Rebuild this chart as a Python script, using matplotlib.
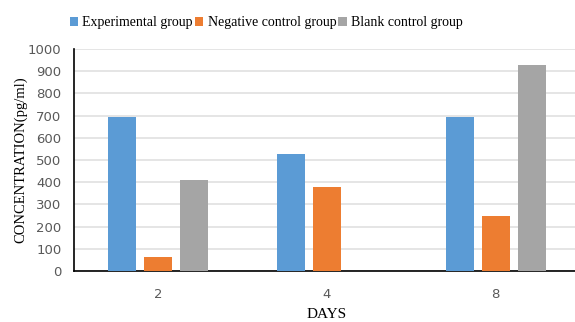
import numpy as np
import matplotlib.pyplot as plt

days = ['2', '4', '8']
experimental = [693, 527, 693]
negative = [65, 378, 248]
blank = [410, np.nan, 928]
series_names = ['Experimental group', 'Negative control group', 'Blank control group']
colors = ['#5B9BD5', '#ED7D31', '#A5A5A5']

fig = plt.figure(figsize=(5.75, 3.22), dpi=100)
ax = fig.add_axes([0.1287, 0.158, 0.88, 0.69])

x = np.arange(len(days))
w = 0.166
step = 0.213
for i, (vals, name, c) in enumerate(zip([experimental, negative, blank], series_names, colors)):
    ax.bar(x + (i - 1) * step, vals, w, color=c, label=name, zorder=3)

ax.set_xlim(-0.5, 2.5)
ax.set_ylim(0, 1000)
ax.set_yticks(range(0, 1001, 100))
ax.set_xticks(x)
ax.set_xticklabels(days)
ax.yaxis.grid(True, color='#E0E0E0', linewidth=1.2, zorder=0)
ax.tick_params(length=0, labelsize=9.5, colors='#595959')
ax.tick_params(axis='y', pad=9)
ax.tick_params(axis='x', pad=12)
for s in ['top', 'right']:
    ax.spines[s].set_visible(False)
ax.spines['left'].set_color('black')
ax.spines['bottom'].set_color('black')
ax.spines['left'].set_linewidth(1.2)
ax.spines['bottom'].set_linewidth(1.2)

ax.set_xlabel('DAYS', family='Liberation Serif', fontsize=11)
ax.set_ylabel('CONCENTRATION(pg/ml)', family='Liberation Serif', fontsize=10.5)
ax.xaxis.set_label_coords(0.5, -0.165)
ax.yaxis.set_label_coords(-0.092, 0.5)

fig.legend(loc='center', bbox_to_anchor=(0.463, 0.93), ncol=3, frameon=False,
           prop={'family': 'Liberation Serif', 'size': 10},
           handlelength=0.6, handleheight=0.6, handletextpad=0.3, columnspacing=0.15)

fig.savefig('out.png', dpi=100)
